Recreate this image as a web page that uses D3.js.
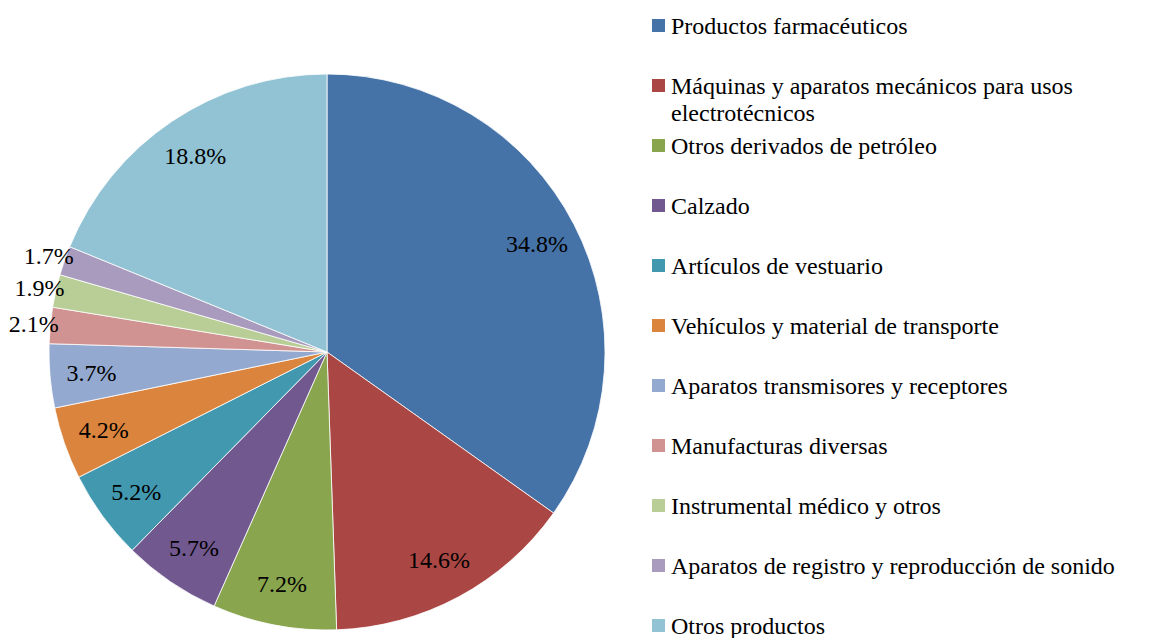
<!DOCTYPE html>
<html>
<head>
<meta charset="utf-8">
<script src="https://cdn.jsdelivr.net/npm/d3@7"></script>
<style>
  body { margin: 0; background: #fff; }
  text { font-family: "Liberation Serif", "Times New Roman", serif; }
</style>
</head>
<body>
<div id="chart"></div>
<script>
const categorias = [
  'Productos farmacéuticos',
  'Máquinas y aparatos mecánicos para usos electrotécnicos',
  'Otros derivados de petróleo',
  'Calzado',
  'Artículos de vestuario',
  'Vehículos y material de transporte',
  'Aparatos transmisores y receptores',
  'Manufacturas diversas',
  'Instrumental médico y otros',
  'Aparatos de registro y reproducción de sonido',
  'Otros productos'
]
const valores = [34.8, 14.6, 7.2, 5.7, 5.2, 4.2, 3.7, 2.1, 1.9, 1.7, 18.8]
const colores = ['#4572A7', '#AA4643', '#89A54E', '#71588F', '#4198AF', '#DB843D',
                 '#93A9CF', '#D19392', '#B9CD96', '#A99BBD', '#92C3D4']

const width = 1164, height = 638
const cx = 327, cy = 352, radius = 278

const svg = d3.select('#chart').append('svg')
    .attr('width', width)
    .attr('height', height)

const data = categorias.map((c, i) => ({ label: c, value: valores[i], color: colores[i] }))

const pie = d3.pie()
    .value(d => d.value)
    .sort(null)
    .startAngle(0)
    .endAngle(2 * Math.PI)

const arc = d3.arc().innerRadius(0).outerRadius(radius)
const arcIn = d3.arc().innerRadius(radius * 0.85).outerRadius(radius * 0.85)
const arcOut = d3.arc().innerRadius(radius * 1.06).outerRadius(radius * 1.06)

const g = svg.append('g').attr('transform', 'translate(' + cx + ',' + cy + ')')
const arcs = pie(data)

g.selectAll('path')
    .data(arcs)
    .enter().append('path')
    .attr('d', arc)
    .style('fill', d => d.data.color)
    .style('stroke', '#fff')
    .style('stroke-width', 0.8)

// etiquetas: las porciones chicas van afuera
g.selectAll('text.lbl')
    .data(arcs)
    .enter().append('text')
    .attr('class', 'lbl')
    .attr('transform', d => {
        const p = d.data.value < 2.5 ? arcOut.centroid(d) : arcIn.centroid(d)
        return 'translate(' + p[0] + ',' + p[1] + ')'
    })
    .attr('dy', '0.35em')
    .attr('font-size', 24)
    .attr('text-anchor', 'middle')
    .text(d => d.data.value.toFixed(1) + '%')

// leyenda
const legendX = 652, legendTop = 26, step = 60, maxW = 495
const legend = svg.append('g')

data.forEach((d, i) => {
    const y = legendTop + i * step
    legend.append('rect')
        .attr('x', legendX)
        .attr('y', y - 7)
        .attr('width', 13)
        .attr('height', 13)
        .style('fill', d.color)

    const t = legend.append('text')
        .attr('x', legendX + 19)
        .attr('y', y + 8)
        .attr('font-size', 24)

    const words = d.label.split(' ')
    let line = [], tspan = t.append('tspan').attr('x', legendX + 19).attr('dy', 0)
    words.forEach(w => {
        line.push(w)
        tspan.text(line.join(' '))
        if (tspan.node().getComputedTextLength() > maxW && line.length > 1) {
            line.pop()
            tspan.text(line.join(' '))
            line = [w]
            tspan = t.append('tspan').attr('x', legendX + 19).attr('dy', 27).text(w)
        }
    })
})
</script>
</body>
</html>
